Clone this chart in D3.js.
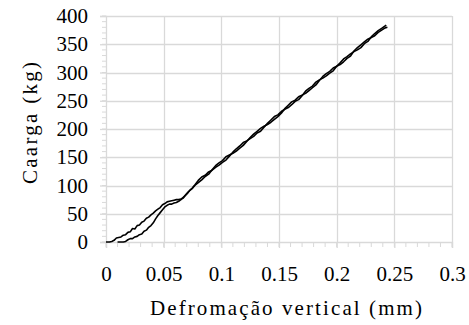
<!DOCTYPE html>
<html>
<head>
<meta charset="utf-8">
<script src="https://cdn.jsdelivr.net/npm/d3@7"></script>
<style>
  body { margin: 0; background: #fff; }
</style>
</head>
<body>
<div id="chart"></div>
<script>
// series 1 (upper branch at low loads)
var defA = [0, 0.003, 0.005, 0.007, 0.009, 0.011, 0.013, 0.015, 0.017, 0.019, 0.021, 0.023, 0.025, 0.027, 0.029,
  0.031, 0.033, 0.035, 0.037, 0.039, 0.041, 0.043, 0.045, 0.047, 0.049, 0.051, 0.053, 0.055, 0.057, 0.059,
  0.061, 0.063, 0.065, 0.067, 0.069, 0.071, 0.073, 0.075, 0.077, 0.080, 0.083, 0.086, 0.089, 0.092, 0.095,
  0.098, 0.101, 0.104, 0.107, 0.110, 0.113, 0.116, 0.119, 0.122, 0.125, 0.128, 0.131, 0.134, 0.137, 0.140,
  0.143, 0.146, 0.149, 0.152, 0.155, 0.158, 0.161, 0.164, 0.167, 0.170, 0.173, 0.176, 0.179, 0.182, 0.185,
  0.188, 0.191, 0.194, 0.197, 0.200, 0.203, 0.206, 0.209, 0.212, 0.215, 0.218, 0.221, 0.224, 0.227, 0.230,
  0.233, 0.236, 0.239, 0.243];
var cargaA = [0, 0, 1, 3, 7, 8, 9, 12, 13, 17, 18, 24, 23, 29, 30,
  35, 37, 42, 44, 48, 51, 55, 58, 61, 66, 68, 71, 72, 73, 74,
  75, 75, 76, 78, 83, 87, 92, 96, 101, 109, 115, 118, 124, 127, 132,
  136, 141, 145, 152, 159, 165, 170, 176, 179, 183, 187, 193, 196, 203, 210,
  216, 222, 225, 231, 235, 238, 243, 249, 252, 259, 267, 272, 276, 283, 287,
  290, 294, 299, 303, 311, 317, 324, 328, 333, 337, 340, 344, 351, 355, 363,
  369, 374, 378, 384];

// series 2 (lower branch at low loads)
var defB = [0.010, 0.013, 0.015, 0.017, 0.019, 0.021, 0.023, 0.025, 0.027, 0.029,
  0.031, 0.033, 0.035, 0.037, 0.039, 0.041, 0.043, 0.045, 0.047, 0.049, 0.051, 0.053, 0.055, 0.057, 0.059,
  0.061, 0.063, 0.065, 0.067, 0.069, 0.071, 0.073, 0.075, 0.077, 0.080, 0.083, 0.086, 0.089, 0.092, 0.095,
  0.098, 0.101, 0.104, 0.107, 0.110, 0.113, 0.116, 0.119, 0.122, 0.125, 0.128, 0.131, 0.134, 0.137, 0.140,
  0.143, 0.146, 0.149, 0.152, 0.155, 0.158, 0.161, 0.164, 0.167, 0.170, 0.173, 0.176, 0.179, 0.182, 0.185,
  0.188, 0.191, 0.194, 0.197, 0.200, 0.203, 0.206, 0.209, 0.212, 0.215, 0.218, 0.221, 0.224, 0.227, 0.230,
  0.233, 0.236, 0.239, 0.242, 0.244];
var cargaB = [0, 0, 0, 1, 4, 6, 6, 9, 10, 13,
  14, 19, 21, 26, 29, 34, 41, 47, 52, 57, 62, 65, 67, 67, 69,
  70, 72, 75, 79, 83, 88, 92, 95, 100, 105, 110, 116, 120, 128, 135,
  140, 144, 151, 154, 157, 161, 166, 171, 178, 185, 191, 196, 201, 205, 208,
  212, 217, 222, 228, 236, 242, 248, 251, 257, 260, 263, 268, 273, 278, 286,
  293, 298, 302, 308, 311, 314, 319, 325, 329, 338, 344, 349, 354, 359, 362,
  365, 371, 375, 379, 380];

var xTicks = [0, 0.05, 0.1, 0.15, 0.2, 0.25, 0.3];
var yTicks = [0, 50, 100, 150, 200, 250, 300, 350, 400];
var xTitle = "Defromação vertical (mm)";
var yTitle = "Caarga (kg)";

var FONT = "Liberation Serif";

var W = 469, H = 325;
var margin = {top: 16, right: 17, bottom: 83, left: 106};
var width = W - margin.left - margin.right,
    height = H - margin.top - margin.bottom;

var svg = d3.select("#chart").append("svg")
    .attr("width", W)
    .attr("height", H);

var g = svg.append("g")
    .attr("transform", "translate(" + margin.left + "," + margin.top + ")");

var x = d3.scaleLinear().domain([0, 0.3]).range([0, width]);
var y = d3.scaleLinear().domain([0, 400]).range([height, 0]);

var gridColor = "#d9d9d9";

// gridlines
g.selectAll(".hgrid").data(yTicks.slice(1)).enter().append("line")
    .attr("x1", 0).attr("x2", width)
    .attr("y1", function(d) { return Math.round(y(d)) + 0.5; })
    .attr("y2", function(d) { return Math.round(y(d)) + 0.5; })
    .attr("stroke", gridColor).attr("stroke-width", 1.3);
g.selectAll(".vgrid").data(xTicks.slice(1)).enter().append("line")
    .attr("y1", 0).attr("y2", height)
    .attr("x1", function(d) { return Math.round(x(d)) + 0.5; })
    .attr("x2", function(d) { return Math.round(x(d)) + 0.5; })
    .attr("stroke", gridColor).attr("stroke-width", 1.3);

// minor ticks
var xMinor = d3.range(0, 31).map(function(i) { return i / 100; });
var yMinor = d3.range(0, 41).map(function(i) { return i * 10; });

// x axis
var xAxis = g.append("g")
    .attr("transform", "translate(0," + height + ")")
    .call(d3.axisBottom(x).tickValues(xTicks).tickSize(6).tickPadding(18)
      .tickFormat(function(d) { return d3.format("")(+d.toFixed(2)); }));
xAxis.append("g").selectAll("line").data(xMinor).enter().append("line")
    .attr("x1", function(d) { return x(d); }).attr("x2", function(d) { return x(d); })
    .attr("y1", 0).attr("y2", 5)
    .attr("stroke", gridColor);

// y axis
var yAxis = g.append("g")
    .call(d3.axisLeft(y).tickValues(yTicks).tickSize(6).tickPadding(12));
yAxis.append("g").selectAll("line").data(yMinor).enter().append("line")
    .attr("y1", function(d) { return y(d); }).attr("y2", function(d) { return y(d); })
    .attr("x1", 0).attr("x2", -4)
    .attr("stroke", gridColor);

[xAxis, yAxis].forEach(function(a) {
  a.attr("font-family", null).attr("font-size", null);
  a.select(".domain").attr("stroke", gridColor).attr("stroke-width", 1.3);
  a.selectAll(".tick line").attr("stroke", gridColor).attr("stroke-width", 1.3);
  a.selectAll(".tick text").attr("fill", "#000")
    .attr("font-family", FONT).attr("font-size", 21);
});

// data lines
var line = d3.line()
    .x(function(d) { return x(d[0]); })
    .y(function(d) { return y(d[1]); });

var seriesA = defA.map(function(d, i) { return [d, cargaA[i]]; });
var seriesB = defB.map(function(d, i) { return [d, cargaB[i]]; });

[seriesA, seriesB].forEach(function(s) {
  g.append("path")
    .datum(s)
    .attr("fill", "none")
    .attr("stroke", "#000")
    .attr("stroke-width", 1.6)
    .attr("stroke-linejoin", "round")
    .attr("d", line);
});

// axis titles
svg.append("text")
    .attr("x", 286)
    .attr("y", 315)
    .attr("text-anchor", "middle")
    .attr("font-family", FONT)
    .attr("font-size", 21)
    .attr("textLength", 272)
    .attr("lengthAdjust", "spacing")
    .text(xTitle);

svg.append("text")
    .attr("transform", "translate(37,123) rotate(-90)")
    .attr("text-anchor", "middle")
    .attr("font-family", FONT)
    .attr("font-size", 21)
    .attr("textLength", 122)
    .attr("lengthAdjust", "spacing")
    .text(yTitle);
</script>
</body>
</html>
